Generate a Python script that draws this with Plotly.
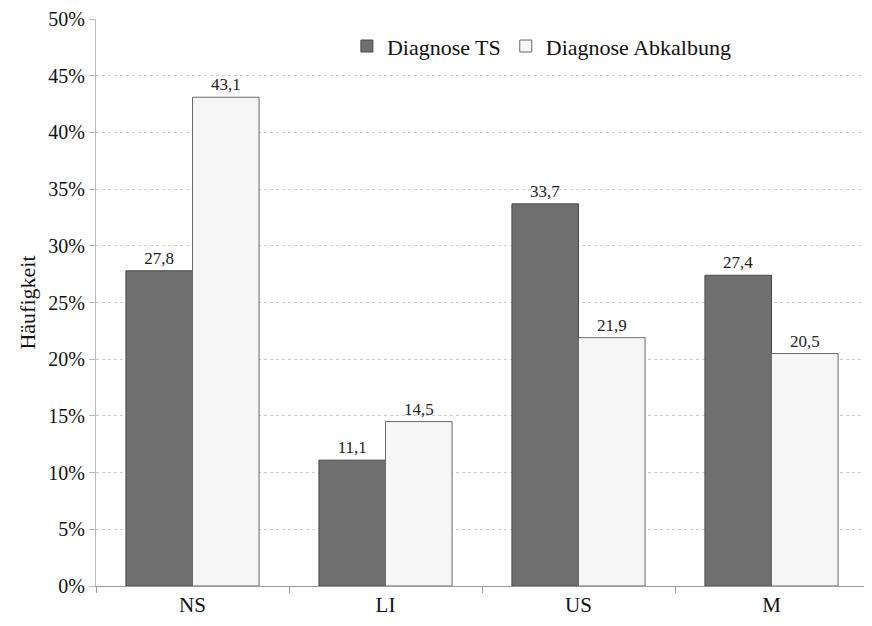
import plotly.graph_objects as go

categories = ["NS", "LI", "US", "M"]
diagnose_ts = [27.8, 11.1, 33.7, 27.4]
diagnose_abkalbung = [43.1, 14.5, 21.9, 20.5]
y_ticks = [0, 5, 10, 15, 20, 25, 30, 35, 40, 45, 50]
y_tick_labels = [f"{v}%" for v in y_ticks]

def de(v):
    return f"{v:.1f}".replace(".", ",")

font = "Liberation Serif"

fig = go.Figure()
fig.add_trace(go.Bar(
    name="Diagnose TS", x=categories, y=diagnose_ts,
    text=[de(v) for v in diagnose_ts], textposition="outside",
    textfont=dict(family=font, size=17, color="#222"),
    marker=dict(color="#6f6f6f", line=dict(color="#4a4a4a", width=1)),
    cliponaxis=False,
))
fig.add_trace(go.Bar(
    name="Diagnose Abkalbung", x=categories, y=diagnose_abkalbung,
    text=[de(v) for v in diagnose_abkalbung], textposition="outside",
    textfont=dict(family=font, size=17, color="#222"),
    marker=dict(color="#f6f6f6", line=dict(color="#6a6a6a", width=1)),
    cliponaxis=False,
))

fig.update_layout(
    width=864, height=618,
    margin=dict(l=88, r=4, t=11, b=40),
    paper_bgcolor="white", plot_bgcolor="white",
    barmode="group", bargap=0.31, bargroupgap=0,
    font=dict(family=font, color="#111"),
    legend=dict(orientation="h", x=0.325, y=0.952, xanchor="left", yanchor="middle",
                font=dict(family=font, size=22, color="#111"),
                bgcolor="rgba(0,0,0,0)", traceorder="normal", itemwidth=30),
    xaxis=dict(showline=True, linecolor="#999", linewidth=1, automargin=False,
               ticks="outside", tickson="boundaries", ticklen=6, tickcolor="#999",
               tickfont=dict(family=font, size=21, color="#111")),
    yaxis=dict(range=[0, 50], tickmode="array", tickvals=y_ticks, ticktext=y_tick_labels,
               ticklabeloverflow="allow",
               showline=True, linecolor="#bbb", linewidth=1, automargin=False,
               ticks="outside", ticklen=6, tickcolor="#bbb",
               showgrid=True, gridcolor="#cfcfcf", griddash="dot", gridwidth=1,
               zeroline=False,
               tickfont=dict(family=font, size=20, color="#111"),
               title=dict(text="Häufigkeit", font=dict(family=font, size=22, color="#111"),
                          standoff=6)),
)

fig.write_html("out.html")
